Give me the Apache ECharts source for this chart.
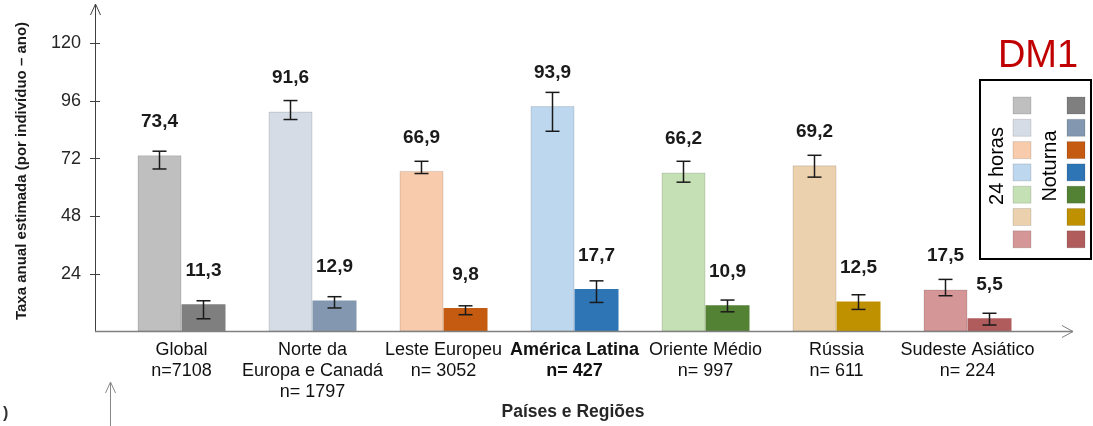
<!DOCTYPE html>
<html>
<head>
<meta charset="utf-8">
<script src="https://cdn.jsdelivr.net/npm/echarts@6/dist/echarts.min.js"></script>
<style>
html,body{margin:0;padding:0;background:#fff;}
#chart{width:1093px;height:426px;}
</style>
</head>
<body>
<div id="chart"></div>
<script>
const categories = ['Global\nn=7108', 'Norte da\nEuropa e Canadá\nn= 1797', 'Leste Europeu\nn= 3052', 'América Latina\nn= 427', 'Oriente Médio\nn= 997', 'Rússia\nn= 611', 'Sudeste Asiático\nn= 224'];
const boldCategory = [false, false, false, true, false, false, false];
const values24 = [73.4, 91.6, 66.9, 93.9, 66.2, 69.2, 17.5];
const valuesNot = [11.3, 12.9, 9.8, 17.7, 10.9, 12.5, 5.5];
const err24Low = [67.7, 88.3, 65.8, 83.4, 62.2, 64.3, 14.9];
const err24High = [75.1, 96.2, 70.9, 99.6, 70.9, 73.4, 21.7];
const errNotLow = [5.3, 9.8, 7.0, 12.1, 8.2, 9.2, 2.7];
const errNotHigh = [12.8, 14.5, 10.7, 21.1, 13.1, 15.3, 7.6];
const yTicks = [24, 48, 72, 96, 120];
const yMax = 136;
const colors24 = ['#bfbfbf', '#d6dce5', '#f8cbad', '#bdd7ee', '#c5e0b4', '#ebd1ae', '#d49696'];
const colorsNot = ['#7f7f7f', '#8497b0', '#c55a11', '#2e75b6', '#548235', '#bf9000', '#b05c5c'];
const legendLabels = ['24 horas', 'Noturna'];
const tagText = 'DM1';
const yTitle = 'Taxa anual estimada (por indivíduo – ano)';
const xTitle = 'Países e Regiões';

const FONT = "'Liberation Sans', Arial, sans-serif";
const chart = echarts.init(document.getElementById('chart'), null, {renderer: 'canvas'});

const BAR_W = 44;
function errSeries(lo, hi, offset) {
  return {
    type: 'custom',
    z: 10,
    silent: true,
    data: lo.map((l, i) => [i, l, hi[i]]),
    encode: {x: 0, y: [1, 2]},
    renderItem: function (params, api) {
      const i = api.value(0);
      const a = api.coord([i, api.value(1)]);
      const b = api.coord([i, api.value(2)]);
      const x = a[0] + offset;
      const cap = 7;
      const st = {stroke: '#1a1a1a', lineWidth: 1.5};
      return {
        type: 'group',
        children: [
          {type: 'line', shape: {x1: x, y1: a[1], x2: x, y2: b[1]}, style: st},
          {type: 'line', shape: {x1: x - cap, y1: a[1], x2: x + cap, y2: a[1]}, style: st},
          {type: 'line', shape: {x1: x - cap, y1: b[1], x2: x + cap, y2: b[1]}, style: st}
        ]
      };
    }
  };
}

const valueLabel = {
  show: true,
  position: 'top',
  distance: 24,
  fontFamily: FONT,
  fontSize: 19,
  fontWeight: 'bold',
  color: '#1a1a1a',
  formatter: p => p.value.toFixed(1).replace('.', ',')
};

// legend graphics
const legendGraphics = [];
legendGraphics.push({type: 'rect', shape: {x: 980, y: 80, width: 111, height: 179}, style: {fill: '#fff', stroke: '#000', lineWidth: 2}, z: 50});
for (let i = 0; i < colors24.length; i++) {
  const y = 97 + i * 22.3;
  legendGraphics.push({type: 'rect', shape: {x: 1013, y: y, width: 18, height: 17}, style: {fill: colors24[i], stroke: 'rgba(0,0,0,0.12)', lineWidth: 1}, z: 51});
  legendGraphics.push({type: 'rect', shape: {x: 1067, y: y, width: 18, height: 17}, style: {fill: colorsNot[i], stroke: 'rgba(0,0,0,0.12)', lineWidth: 1}, z: 51});
}
legendGraphics.push({type: 'text', x: 997, y: 166, rotation: Math.PI / 2, z: 52,
  style: {text: legendLabels[0], fontFamily: FONT, fontSize: 20, fill: '#000', align: 'center', verticalAlign: 'middle'}});
legendGraphics.push({type: 'text', x: 1050, y: 166, rotation: Math.PI / 2, z: 52,
  style: {text: legendLabels[1], fontFamily: FONT, fontSize: 20, fill: '#000', align: 'center', verticalAlign: 'middle'}});

const option = {
  animation: false,
  backgroundColor: '#fff',
  grid: {left: 116, right: 60, top: 5, bottom: 94.5, containLabel: false},
  xAxis: {
    type: 'category',
    data: categories,
    axisLine: {show: false},
    axisTick: {show: false},
    axisLabel: {
      interval: 0,
      margin: 8,
      formatter: function (v, idx) {
        const s = boldCategory[idx] ? 'b' : 'n';
        return v.split('\n').map(l => '{' + s + '|' + l + '}').join('\n');
      },
      rich: {
        n: {fontFamily: FONT, fontSize: 18, color: '#111', lineHeight: 21},
        b: {fontFamily: FONT, fontSize: 18, color: '#111', lineHeight: 21, fontWeight: 'bold'}
      }
    }
  },
  yAxis: [{
    type: 'value',
    min: 0,
    max: yMax,
    offset: 21,
    position: 'left',
    axisLine: {show: true, lineStyle: {color: '#404040', width: 1}},
    axisTick: {show: true, length: 5, customValues: yTicks, lineStyle: {color: '#404040'}},
    axisLabel: {customValues: yTicks, fontFamily: FONT, fontSize: 18, color: '#262626', margin: 14},
    splitLine: {show: false}
  }, {
    type: 'value',
    min: 0,
    max: yMax,
    offset: 21,
    position: 'left',
    axisLine: {show: false},
    axisTick: {show: true, inside: true, length: 5, customValues: yTicks, lineStyle: {color: '#404040'}},
    axisLabel: {show: false},
    splitLine: {show: false}
  }],
  series: [
    {
      name: legendLabels[0],
      type: 'bar',
      data: values24,
      barWidth: BAR_W,
      barGap: '0%',
      itemStyle: {color: p => colors24[p.dataIndex], borderColor: 'rgba(0,0,0,0.12)', borderWidth: 1},
      label: valueLabel
    },
    {
      name: legendLabels[1],
      type: 'bar',
      data: valuesNot,
      barWidth: BAR_W,
      barGap: '0%',
      itemStyle: {color: p => colorsNot[p.dataIndex]},
      label: valueLabel
    },
    errSeries(err24Low, err24High, -BAR_W / 2),
    errSeries(errNotLow, errNotHigh, BAR_W / 2)
  ],
  graphic: [
    // y-axis arrow head
    {type: 'polyline', shape: {points: [[90.5, 15], [95.5, 4], [100.5, 15]]}, style: {stroke: '#404040', lineWidth: 1, fill: null}, z: 20},
    // x-axis line with arrow head
    {type: 'line', shape: {x1: 95, y1: 331.5, x2: 1073, y2: 331.5}, style: {stroke: '#808080', lineWidth: 1.5}, z: 20},
    {type: 'polyline', shape: {points: [[1062, 325.5], [1073, 331.5], [1062, 337.5]]}, style: {stroke: '#808080', lineWidth: 1, fill: null}, z: 20},
    // y title
    {type: 'text', x: 22, y: 171, rotation: Math.PI / 2, z: 20,
      style: {text: yTitle, fontFamily: FONT, fontSize: 15, fontWeight: 'bold', fill: '#1a1a1a', align: 'center', verticalAlign: 'middle'}},
    // x title
    {type: 'text', x: 573, y: 412, z: 20,
      style: {text: xTitle, fontFamily: FONT, fontSize: 17.5, fontWeight: 'bold', fill: '#262626', align: 'center', verticalAlign: 'middle'}},
    // DM1 tag
    {type: 'text', x: 1038, y: 57, z: 20,
      style: {text: tagText, fontFamily: FONT, fontSize: 38, fill: '#c00000', align: 'center', verticalAlign: 'middle'}},
    // fragment of next chart at bottom
    {type: 'line', shape: {x1: 110.5, y1: 383, x2: 110.5, y2: 426}, style: {stroke: '#888', lineWidth: 1}, z: 20},
    {type: 'polyline', shape: {points: [[105.5, 393], [110.5, 382], [115.5, 393]]}, style: {stroke: '#888', lineWidth: 1, fill: null}, z: 20},
    {type: 'text', x: 3, y: 414, z: 20,
      style: {text: ')', fontFamily: FONT, fontSize: 16, fontWeight: 'bold', fill: '#333', align: 'left', verticalAlign: 'middle'}}
  ].concat(legendGraphics)
};
chart.setOption(option);
</script>
</body>
</html>
